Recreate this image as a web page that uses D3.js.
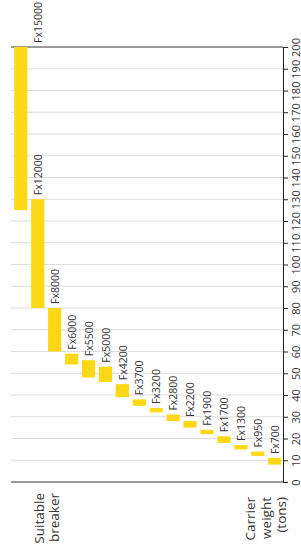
<!DOCTYPE html>
<html>
<head>
<meta charset="utf-8">
<script src="https://cdn.jsdelivr.net/npm/d3@7"></script>
<style>
  body { margin: 0; background: #fff; }
  svg text { font-family: "Open Sans", sans-serif; fill: #333; }
</style>
</head>
<body>
<script>
// breaker models and the carrier weight range (tons) each one suits
const categories = ["Fx15000", "Fx12000", "Fx8000", "Fx6000", "Fx5500", "Fx5000", "Fx4200", "Fx3700",
                    "Fx3200", "Fx2800", "Fx2200", "Fx1900", "Fx1700", "Fx1300", "Fx950", "Fx700"];
const lowValues  = [125, 80, 60, 54, 48, 46, 39, 35, 32, 28, 25, 22, 18, 15, 12, 8];
const highValues = [200, 130, 80, 59, 56, 53, 45, 38, 34, 31, 28, 24, 21, 17, 14, 11];
const yTicks = d3.range(0, 201, 10);

const width = 301, height = 556;
const plotLeft = 11, plotRight = 283, plotTop = 47, plotBottom = 482;

const data = categories.map((c, i) => ({ label: c, low: lowValues[i], high: highValues[i] }));

const svg = d3.select("body").append("svg")
  .attr("width", width)
  .attr("height", height);

const x = d3.scaleBand()
  .domain(categories)
  .range([plotLeft + 1.5, plotRight])
  .paddingInner(0.22)
  .paddingOuter(0.1);

const y = d3.scaleLinear()
  .domain([0, 200])
  .range([plotBottom, plotTop]);

// grid lines, first and last one darker
svg.append("g")
  .selectAll("line")
  .data(yTicks)
  .join("line")
    .attr("x1", plotLeft)
    .attr("x2", plotRight)
    .attr("y1", d => y(d))
    .attr("y2", d => y(d))
    .attr("stroke", d => (d === 0 || d === 200) ? "#777" : "#ddd")
    .attr("stroke-width", d => (d === 0 || d === 200) ? 1.5 : 1);

// floating bars
svg.append("g")
  .selectAll("rect")
  .data(data)
  .join("rect")
    .attr("x", d => x(d.label))
    .attr("y", d => y(d.high))
    .attr("width", x.bandwidth())
    .attr("height", d => y(d.low) - y(d.high))
    .attr("fill", "#ffd815");

// model labels above bars (the tallest one gets pushed to the next column)
svg.append("g")
  .selectAll("text")
  .data(data)
  .join("text")
    .attr("transform", (d, i) => {
      let cx = x(d.label) + x.bandwidth() / 2;
      if (d.high === 200 && i + 1 < categories.length) cx = x(categories[i + 1]) + x.bandwidth() / 2;
      return `translate(${cx + 0.5},${y(d.high) - 4}) rotate(-90)`;
    })
    .attr("dy", "0.35em")
    .style("font-size", "10.5px")
    .text(d => d.label);

// right axis
const axis = svg.append("g")
  .attr("transform", `translate(${plotRight},0)`)
  .call(d3.axisRight(y).tickValues(yTicks).tickSize(5).tickSizeOuter(0));

axis.select(".domain").attr("stroke", "#222");
axis.selectAll(".tick line").attr("stroke", "#222");
axis.selectAll(".tick text")
  .attr("x", null)
  .attr("dy", null)
  .attr("transform", "translate(16.5,0) rotate(-90)")
  .attr("text-anchor", "middle")
  .style("font-family", "'Open Sans', sans-serif")
  .style("font-size", "11px")
  .style("fill", "#333");

// titles under the chart
const leftTitle = ["Suitable", "breaker"];
const rightTitle = ["Carrier", "weight", "(tons)"];

svg.append("g")
  .selectAll("text")
  .data(leftTitle)
  .join("text")
    .attr("transform", (d, i) => `translate(${43.5 + i * 15.5},493) rotate(-90)`)
    .attr("text-anchor", "end")
    .style("font-size", "13.5px")
    .text(d => d);

svg.append("g")
  .selectAll("text")
  .data(rightTitle)
  .join("text")
    .attr("transform", (d, i) => `translate(${255 + i * 15.5},497) rotate(-90)`)
    .attr("text-anchor", "end")
    .style("font-size", "13.5px")
    .text(d => d);
</script>
</body>
</html>
